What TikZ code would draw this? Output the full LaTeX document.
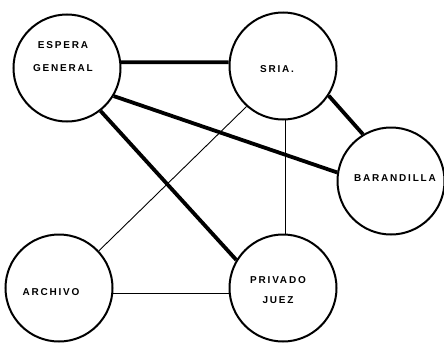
\documentclass[tikz,border=0pt]{standalone}
\usepackage{fontspec}
\newfontfamily\roomfont[LetterSpace=18]{Liberation Sans}
\begin{document}
\begin{tikzpicture}[x=1pt,y=-1pt,
   room/.style={circle,draw=black,line width=2pt,minimum size=107pt,inner sep=0pt},
   txt/.style={font=\roomfont\bfseries\fontsize{10}{23}\selectfont,align=center,inner sep=0pt},
   strong/.style={black,line width=3.8pt},
   weak/.style={black,line width=0.9pt}]
   \useasboundingbox (0,0) rectangle (444,343);
   \node [room] (esp) at (67,68) {};
   \node [room] (sria) at (283,66) {};
   \node [room] (bar) at (391,181) {};
   \node [room] (arch) at (59,288) {};
   \node [room] (priv) at (283,288) {};
   \node [txt] (esp-t) at (63,57) {ESPERA\\GENERAL};
   \node [txt] (sria-t) at (277,69) {SRIA.};
   \node [txt] (bar-t) at (395,178) {BARANDILLA};
   \node [txt] (arch-t) at (51,292) {ARCHIVO};
   \node [txt,font=\roomfont\bfseries\fontsize{10}{20}\selectfont] (priv-t) at (278,290) {PRIVADO\\JUEZ};
   \draw [strong] (esp.6) -- (sria.176);
   \draw [strong] (esp.-31) -- (bar.171);
   \draw [strong] (esp.-52) -- (priv.149);
   \draw [strong] (sria.-33) -- (bar.121);
   \draw [weak] (sria.-132) -- (arch.43);
   \draw [weak] (sria.-87) -- (priv.87);
   \draw [weak] (arch.-6) -- (priv.186);
\end{tikzpicture}
\end{document}
